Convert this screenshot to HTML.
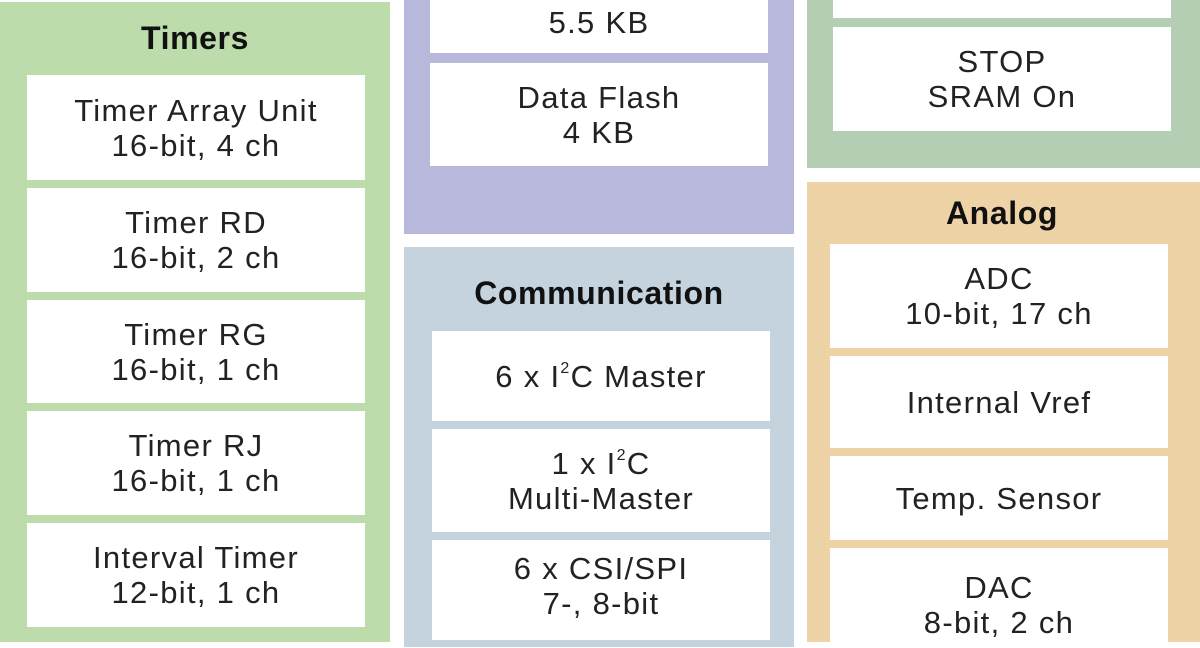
<!DOCTYPE html>
<html><head><style>
body{margin:0;width:1200px;height:630px;overflow:hidden;background:#fff;position:relative;font-family:"Liberation Sans",sans-serif;}
.p{position:absolute}
.b{position:absolute;background:#fff;display:flex;flex-direction:column;align-items:center;justify-content:center;text-align:center;font-size:31px;line-height:35px;color:#222;letter-spacing:1.3px;}
.t{position:absolute;text-align:center;font-weight:bold;font-size:32px;color:#111;letter-spacing:0.6px;}
sup{font-size:16px;vertical-align:top;line-height:20px}
</style></head><body>
<div class="p" style="left:0;top:2px;width:390px;height:640px;background:#bddcab"></div>
<div class="t" style="left:0;top:20px;width:390px">Timers</div>
<div class="b" style="left:27px;top:75px;width:338px;height:105px"><div>Timer Array Unit<br>16-bit, 4 ch</div></div>
<div class="b" style="left:27px;top:188px;width:338px;height:104px"><div>Timer RD<br>16-bit, 2 ch</div></div>
<div class="b" style="left:27px;top:300px;width:338px;height:103px"><div>Timer RG<br>16-bit, 1 ch</div></div>
<div class="b" style="left:27px;top:411px;width:338px;height:104px"><div>Timer RJ<br>16-bit, 1 ch</div></div>
<div class="b" style="left:27px;top:523px;width:338px;height:104px"><div>Interval Timer<br>12-bit, 1 ch</div></div>

<div class="p" style="left:404px;top:0;width:390px;height:234px;background:#b8b7dc"></div>
<div class="b" style="left:430px;top:-40px;width:338px;height:93px;justify-content:flex-end"><div style="margin-bottom:13px">5.5 KB</div></div>
<div class="b" style="left:430px;top:63px;width:338px;height:103px"><div>Data Flash<br>4 KB</div></div>

<div class="p" style="left:404px;top:247px;width:390px;height:400px;background:#c4d3de"></div>
<div class="t" style="left:404px;top:275px;width:390px">Communication</div>
<div class="b" style="left:432px;top:331px;width:338px;height:90px"><div>6 x I<sup>2</sup>C Master</div></div>
<div class="b" style="left:432px;top:429px;width:338px;height:103px"><div>1 x I<sup>2</sup>C<br>Multi-Master</div></div>
<div class="b" style="left:432px;top:540px;width:338px;height:100px;justify-content:flex-start;padding-top:11px;box-sizing:border-box"><div>6 x CSI/SPI<br>7-, 8-bit</div></div>

<div class="p" style="left:807px;top:0;width:400px;height:168px;background:#b5cfb5"></div>
<div class="b" style="left:833px;top:0;width:338px;height:18px"></div>
<div class="b" style="left:833px;top:27px;width:338px;height:104px"><div>STOP<br>SRAM On</div></div>

<div class="p" style="left:807px;top:182px;width:400px;height:460px;background:#edd3a5"></div>
<div class="t" style="left:807px;top:195px;width:390px">Analog</div>
<div class="b" style="left:830px;top:244px;width:338px;height:104px"><div>ADC<br>10-bit, 17 ch</div></div>
<div class="b" style="left:830px;top:356px;width:338px;height:92px"><div>Internal Vref</div></div>
<div class="b" style="left:830px;top:456px;width:338px;height:84px"><div>Temp. Sensor</div></div>
<div class="b" style="left:830px;top:548px;width:338px;height:100px;justify-content:flex-start;padding-top:22px;box-sizing:border-box"><div>DAC<br>8-bit, 2 ch</div></div>
</body></html>
